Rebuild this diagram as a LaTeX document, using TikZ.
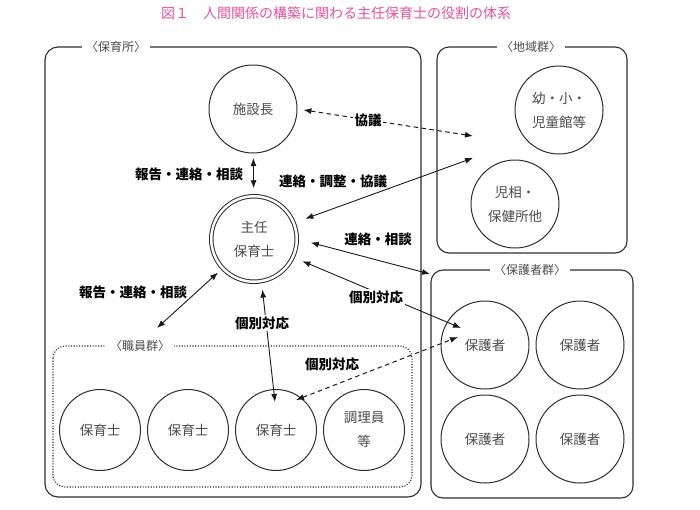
\documentclass[tikz,border=0pt]{standalone}
\usepackage{fontspec}
\usetikzlibrary{arrows.meta}
\newfontfamily\jp{Noto Sans CJK JP}
\definecolor{titlepink}{RGB}{232,80,158}
\definecolor{lineg}{RGB}{45,45,45}
\definecolor{textg}{RGB}{75,75,75}

\begin{document}
\begin{tikzpicture}[x=1pt, y=-1pt, >={Latex[length=8pt,width=6pt]}, font=\jp,
  person/.style={circle, draw=lineg, line width=1pt, minimum size=88pt, inner sep=0pt,
    align=center, text=textg, font=\jp\fontsize{13.5}{24}\selectfont},
  staff/.style={person, minimum size=81pt},
  grp/.style={draw=lineg, line width=1.1pt, rounded corners=13pt},
  grplabel/.style={fill=white, inner sep=4pt, text=textg, font=\jp\fontsize{12}{14}\selectfont},
  lbl/.style={font=\jp\bfseries\fontsize{13.5}{16}\selectfont, inner sep=1.5pt},
  link/.style={<->, line width=0.9pt, draw=black!90}]

\useasboundingbox (0,0) rectangle (700,509);

\node[font=\jp\fontsize{14}{16}\selectfont, text=titlepink] (title) at (336,13)
  {図１　人間関係の構築に関わる主任保育士の役割の体系};

% groups
\draw[grp] (45,47) rectangle (421,497);
\node[grplabel] (hoikusho) at (116,47) {〈保育所〉};
\draw[grp, rounded corners=12pt] (437,47) rectangle (627,253);
\node[grplabel] (chiikigun) at (531,47) {〈地域群〉};
\draw[grp, rounded corners=12pt] (431,270) rectangle (633,498);
\node[grplabel] (hogoshagun) at (530,270) {〈保護者群〉};
\draw[draw=lineg, line width=1.1pt, dash pattern=on 1.1pt off 1.6pt, rounded corners=12pt]
  (53,346) rectangle (412,487);
\node[grplabel] (shokuingun) at (140,346) {〈職員群〉};

% people
\node[person] (shisetsu) at (253,109) {施設長};
\node[person, double=white, double distance=2.5pt, minimum size=85.5pt] (shunin) at (254,239) {主任\\保育士};
\node[person] (yosho) at (559,110) {幼・小・\\児童館等};
\node[person] (jiso) at (515,204) {児相・\\保健所他};
\node[person] (hogo1) at (485,345) {保護者};
\node[person] (hogo2) at (580,345) {保護者};
\node[person] (hogo3) at (485,439) {保護者};
\node[person] (hogo4) at (580,439) {保護者};
\node[staff] (hoiku1) at (100,430) {保育士};
\node[staff] (hoiku2) at (188,430) {保育士};
\node[staff] (hoiku3) at (276,430) {保育士};
\node[staff] (chori) at (364,430) {調理員\\等};

\coordinate (chiikiA) at (473,136);
\coordinate (chiikiB) at (473,158);
\coordinate (hogogunC) at (430,274);
\coordinate (shokuinD) at (157,328);
\coordinate (hogoIn1) at (461,328);
\coordinate (hogoIn2) at (458,337);
\coordinate (hoikuIn1) at (275,402);
\coordinate (hoikuIn2) at (296,400);

% connectors
\draw[link, shorten <=4.5pt, shorten >=7.5pt] (shisetsu) -- (shunin);
\draw[link, line width=1pt, dash pattern=on 4.5pt off 3.5pt, shorten <=6pt] (shisetsu.east) -- (chiikiA);
\draw[link, shorten <=12pt] (shunin.22) -- (chiikiB);
\draw[link, shorten <=14pt] (shunin.east) -- (hogogunC);
\draw[link, shorten <=10pt] (shunin.-25) -- (hogoIn1);
\draw[link, shorten <=6pt] (shunin.223) -- (shokuinD);
\draw[link, shorten <=8pt] (shunin.-80) -- (hoikuIn1);
\draw[link, line width=1pt, dash pattern=on 4.5pt off 3.5pt] (hoikuIn2) -- (hogoIn2);

% labels
\node[lbl] (lbA) at (189,174) {報告・連絡・相談};
\node[lbl, fill=white] (lbB) at (368,120) {協議};
\node[lbl] (lbC) at (333,181) {連絡・調整・協議};
\node[lbl] (lbD) at (378,239) {連絡・相談};
\node[lbl, fill=white] (lbE) at (376,297) {個別対応};
\node[lbl] (lbF) at (133,292) {報告・連絡・相談};
\node[lbl, fill=white] (lbG) at (262,323) {個別対応};
\node[lbl] (lbH) at (332,364) {個別対応};

\end{tikzpicture}
\end{document}
